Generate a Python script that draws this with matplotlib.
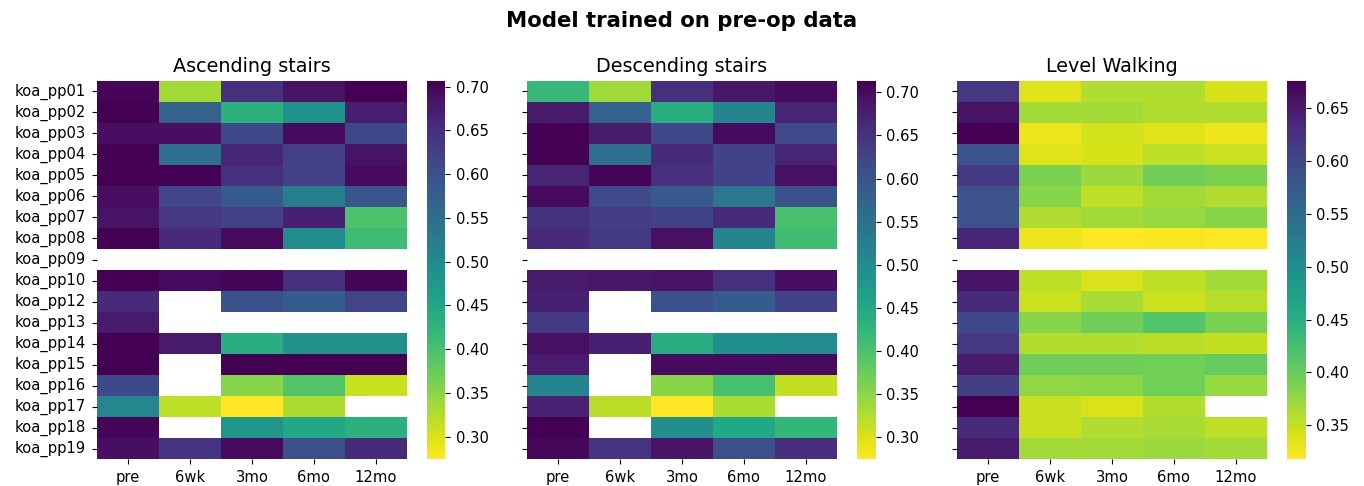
import numpy as np
import pandas as pd
import matplotlib
matplotlib.use("Agg")
import matplotlib.pyplot as plt
import seaborn as sns

nan = np.nan
participants = ["koa_pp01", "koa_pp02", "koa_pp03", "koa_pp04", "koa_pp05", "koa_pp06",
                "koa_pp07", "koa_pp08", "koa_pp09", "koa_pp10", "koa_pp12", "koa_pp13",
                "koa_pp14", "koa_pp15", "koa_pp16", "koa_pp17", "koa_pp18", "koa_pp19"]
timepoints = ["pre", "6wk", "3mo", "6mo", "12mo"]

ascending = [
    [0.700, 0.335, 0.646, 0.685, 0.705],
    [0.706, 0.573, 0.430, 0.490, 0.672],
    [0.690, 0.690, 0.612, 0.694, 0.612],
    [0.706, 0.551, 0.660, 0.625, 0.685],
    [0.7065, 0.7065, 0.646, 0.625, 0.694],
    [0.690, 0.616, 0.586, 0.521, 0.595],
    [0.685, 0.638, 0.625, 0.668, 0.396],
    [0.705, 0.655, 0.694, 0.500, 0.409],
    [nan, nan, nan, nan, nan],
    [0.706, 0.694, 0.700, 0.646, 0.700],
    [0.655, nan, 0.600, 0.582, 0.620],
    [0.677, nan, nan, nan, nan],
    [0.7065, 0.677, 0.435, 0.490, 0.490],
    [0.7065, nan, 0.706, 0.706, 0.7065],
    [0.612, nan, 0.353, 0.392, 0.310],
    [0.508, 0.318, 0.2745, 0.327, nan],
    [0.700, nan, 0.482, 0.448, 0.430],
    [0.690, 0.640, 0.694, 0.603, 0.655],
]

descending = [
    [0.420, 0.338, 0.652, 0.687, 0.700],
    [0.683, 0.579, 0.437, 0.514, 0.670],
    [0.713, 0.683, 0.618, 0.700, 0.614],
    [0.713, 0.553, 0.661, 0.627, 0.670],
    [0.670, 0.707, 0.652, 0.627, 0.695],
    [0.700, 0.614, 0.592, 0.540, 0.605],
    [0.648, 0.635, 0.627, 0.665, 0.403],
    [0.661, 0.640, 0.695, 0.514, 0.410],
    [nan, nan, nan, nan, nan],
    [0.683, 0.687, 0.690, 0.652, 0.697],
    [0.675, nan, 0.605, 0.588, 0.627],
    [0.640, nan, nan, nan, nan],
    [0.695, 0.675, 0.440, 0.497, 0.504],
    [0.680, nan, 0.700, 0.700, 0.700],
    [0.514, nan, 0.355, 0.402, 0.316],
    [0.672, 0.320, 0.275, 0.330, nan],
    [0.713, nan, 0.494, 0.450, 0.424],
    [0.705, 0.645, 0.690, 0.607, 0.656],
]

level = [
    [0.619, 0.336, 0.361, 0.361, 0.340],
    [0.658, 0.368, 0.367, 0.361, 0.360],
    [0.676, 0.329, 0.343, 0.336, 0.327],
    [0.586, 0.336, 0.340, 0.354, 0.347],
    [0.615, 0.390, 0.372, 0.397, 0.390],
    [0.586, 0.383, 0.354, 0.368, 0.361],
    [0.586, 0.361, 0.369, 0.375, 0.383],
    [0.637, 0.329, 0.318, 0.322, 0.320],
    [nan, nan, nan, nan, nan],
    [0.658, 0.354, 0.338, 0.354, 0.368],
    [0.633, 0.347, 0.365, 0.347, 0.358],
    [0.597, 0.383, 0.397, 0.415, 0.390],
    [0.619, 0.360, 0.360, 0.355, 0.351],
    [0.651, 0.397, 0.397, 0.395, 0.404],
    [0.612, 0.378, 0.380, 0.396, 0.375],
    [0.676, 0.348, 0.338, 0.360, nan],
    [0.633, 0.348, 0.360, 0.365, 0.354],
    [0.652, 0.368, 0.368, 0.372, 0.367],
]

titles = ["Ascending stairs", "Descending stairs", "Level Walking"]
datasets = [ascending, descending, level]

fig = plt.figure(figsize=(13.64, 4.86), dpi=100)
W, H = 1364, 486
ax_lefts = [96.7, 526.7, 956.7]
cb_lefts = [426.7, 857.3, 1287.3]
ax_w = 310.4
top, bottom = 81, 459
fs = 10.6

for i, (data, title) in enumerate(zip(datasets, titles)):
    ax = fig.add_axes([ax_lefts[i] / W, (H - bottom) / H, ax_w / W, (bottom - top) / H])
    cax = fig.add_axes([cb_lefts[i] / W, (H - bottom) / H, 18.4 / W, (bottom - top) / H])
    df = pd.DataFrame(data, index=participants, columns=timepoints)
    sns.heatmap(df, ax=ax, cbar_ax=cax, cmap="viridis_r")
    ax.set_title(title, fontsize=13.8, pad=6.5)
    ax.tick_params(axis="both", labelsize=fs, length=3.8, pad=3.8)
    ax.set_yticks(np.arange(len(participants)) + 0.5)
    if i == 0:
        ax.set_yticklabels(participants, rotation=0)
    else:
        ax.set_yticklabels([])
    ax.set_xticklabels(timepoints, rotation=0)
    cax.tick_params(labelsize=fs, length=3.8, pad=3.8)

fig.suptitle("Model trained on pre-op data", fontsize=15.3, fontweight="bold", y=0.978)
fig.savefig("out.png", dpi=100)
